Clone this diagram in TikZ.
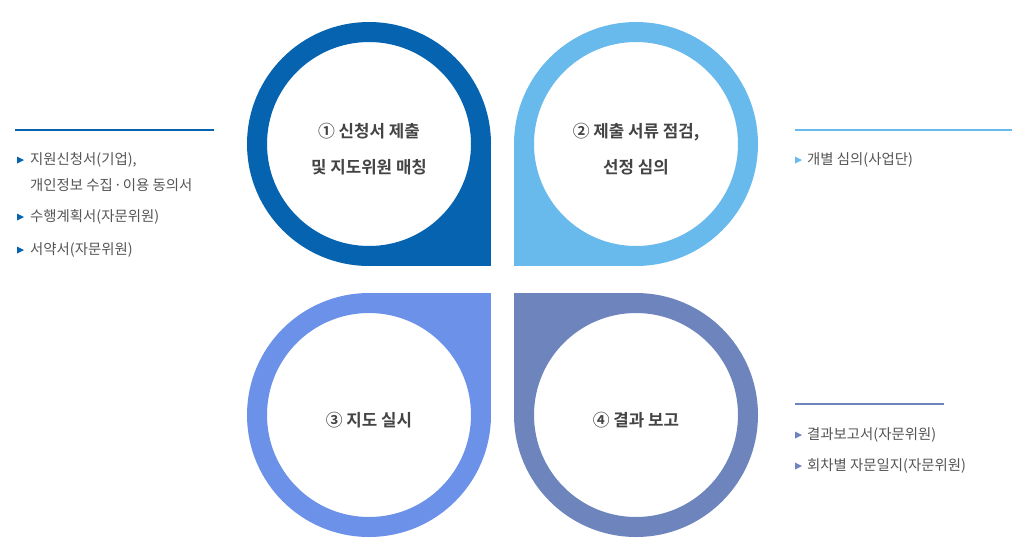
\documentclass[tikz,border=0pt]{standalone}
\usepackage{fontspec}
\usepackage{xcolor}
\usepackage{tikz}
\usetikzlibrary{positioning}
\setmainfont{Noto Sans CJK KR}[BoldFont={Noto Sans CJK KR Bold}]

\definecolor{stepA}{HTML}{0563AF}
\definecolor{stepB}{HTML}{69BAEC}
\definecolor{stepC}{HTML}{6B91E8}
\definecolor{stepD}{HTML}{6E84BD}
\definecolor{txtgray}{HTML}{555555}
\definecolor{ttlgray}{HTML}{444444}

\tikzset{
  ring/.style={circle, fill=white, line width=20pt, minimum size=224pt, inner sep=0pt},
  title/.style={align=center, inner sep=0pt, text=ttlgray, font=\fontsize{16.8pt}{36pt}\selectfont\bfseries},
  item/.style={anchor=west, inner sep=0pt, text=txtgray, font=\fontsize{14.4pt}{16pt}\selectfont},
}

\begin{document}
\begin{tikzpicture}[x=1pt, y=-1pt]
  \useasboundingbox (0,0) rectangle (1027,558);

  % Draw the corner squares of the petals
  \fill[stepA] (369,144) rectangle (491,266);
  \fill[stepB] (636,144) rectangle (514,266);
  \fill[stepC] (369,415) rectangle (491,293);
  \fill[stepD] (636,415) rectangle (514,293);

  % Draw the rings
  \node[ring, draw=stepA] (step1) at (369,144) {};
  \node[ring, draw=stepB] (step2) at (636,144) {};
  \node[ring, draw=stepC] (step3) at (369,415) {};
  \node[ring, draw=stepD] (step4) at (636,415) {};

  % Step titles
  \node[title] (title1) at ([yshift=-5pt]step1.center) {① 신청서 제출\\및 지도위원 매칭};
  \node[title] (title2) at ([yshift=-5pt]step2.center) {② 제출 서류 점검,\\선정 심의};
  \node[title] (title3) at ([yshift=-5pt]step3.center) {③ 지도 실시};
  \node[title] (title4) at ([yshift=-5pt]step4.center) {④ 결과 보고};

  % Left list
  \draw[stepA, line width=2pt] (15,130) -- (214,130);
  \node[item] (doc1) at (30,160) {지원신청서(기업),};
  \node[item] (doc1b) at (30,185) {개인정보 수집\kern1pt·\kern1pt이용 동의서};
  \node[item] (doc2) at (30,217) {수행계획서(자문위원)};
  \node[item] (doc3) at (30,250) {서약서(자문위원)};
  \fill[stepA] (17,156.5) -- (24,160) -- (17,163.5) -- cycle;
  \fill[stepA] (17,213.5) -- (24,217) -- (17,220.5) -- cycle;
  \fill[stepA] (17,246.5) -- (24,250) -- (17,253.5) -- cycle;

  % Right list, top
  \draw[stepB, line width=2pt] (795,130) -- (1012,130);
  \node[item] (rev1) at (807,160) {개별 심의(사업단)};
  \fill[stepB] (795,156.5) -- (802,160) -- (795,163.5) -- cycle;

  % Right list, bottom
  \draw[stepD, line width=2pt] (795,404) -- (944,404);
  \node[item] (rep1) at (807,435) {결과보고서(자문위원)};
  \node[item] (rep2) at (807,466) {회차별 자문일지(자문위원)};
  \fill[stepD] (795,431.5) -- (802,435) -- (795,438.5) -- cycle;
  \fill[stepD] (795,462.5) -- (802,466) -- (795,469.5) -- cycle;
\end{tikzpicture}
\end{document}
